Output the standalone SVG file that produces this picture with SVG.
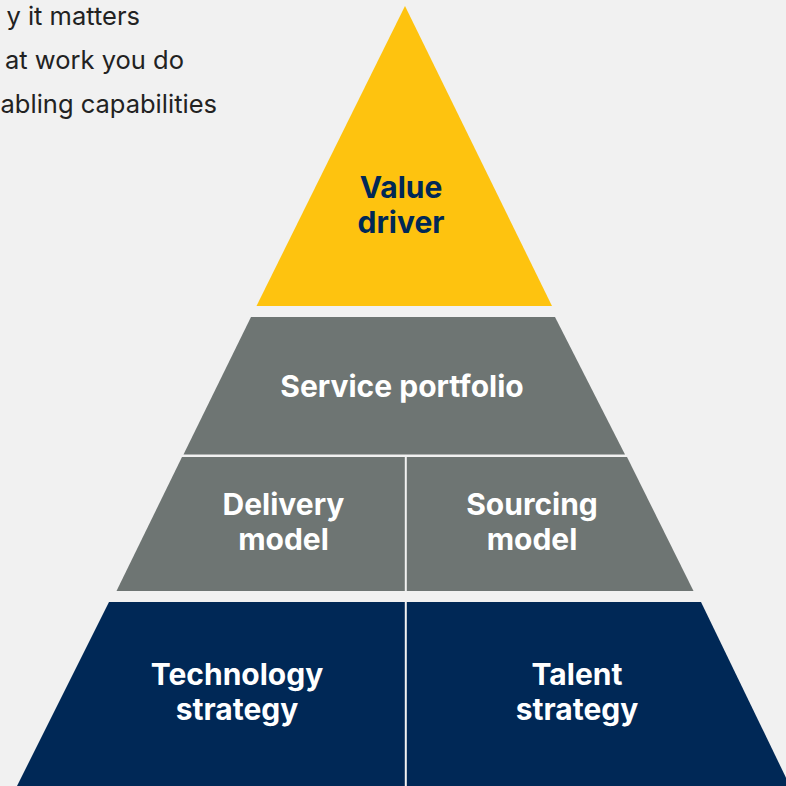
<svg xmlns="http://www.w3.org/2000/svg" width="786" height="786" viewBox="0 0 786 786">
  <style>
    .bg { fill: #f1f1f1; }
    .legend { font-family: Inter, "Liberation Sans", sans-serif; font-size: 25.5px; font-weight: 400; fill: #222222; }
    .label { font-family: Inter, "Liberation Sans", sans-serif; font-size: 30px; font-weight: 700; text-anchor: middle; }
    .on-dark { fill: #ffffff; }
    .on-yellow { fill: #002856; }
    .tier-top { fill: #fec30f; }
    .tier-mid { fill: #6e7573; }
    .tier-base { fill: #002856; }
  </style>

  <rect class="bg" x="0" y="0" width="786" height="786"/>

  <!-- legend lines, clipped at the left edge -->
  <g id="legend">
    <text class="legend" x="140" y="25" text-anchor="end">y it matters</text>
    <text class="legend" x="184" y="69" text-anchor="end">at work you do</text>
    <text class="legend" x="217" y="113" text-anchor="end">abling capabilities</text>
  </g>

  <!-- apex -->
  <g id="value-driver">
    <polygon class="tier-top" points="405,6 552,306 256.5,306"/>
    <text class="label on-yellow" x="401" y="197.5">Value</text>
    <text class="label on-yellow" x="401" y="232.5">driver</text>
  </g>

  <!-- second tier -->
  <g id="service-portfolio">
    <polygon class="tier-mid" points="251,317 555,317 625,454.5 183.5,454.5"/>
    <text class="label on-dark" x="402" y="397">Service portfolio</text>
  </g>

  <!-- third tier, split -->
  <g id="delivery-model">
    <polygon class="tier-mid" points="182,457 404.8,457 404.8,591 116.5,591"/>
    <text class="label on-dark" x="283.5" y="515">Delivery</text>
    <text class="label on-dark" x="283.5" y="550">model</text>
  </g>
  <g id="sourcing-model">
    <polygon class="tier-mid" points="406.8,457 627,457 693.5,591 406.8,591"/>
    <text class="label on-dark" x="532" y="515">Sourcing</text>
    <text class="label on-dark" x="532" y="550">model</text>
  </g>

  <!-- base tier, split -->
  <g id="technology-strategy">
    <polygon class="tier-base" points="109,602 404.8,602 404.8,786 17,786"/>
    <text class="label on-dark" x="237" y="685">Technology</text>
    <text class="label on-dark" x="237" y="720">strategy</text>
  </g>
  <g id="talent-strategy">
    <polygon class="tier-base" points="406.8,602 701,602 790,786 406.8,786"/>
    <text class="label on-dark" x="577" y="685">Talent</text>
    <text class="label on-dark" x="577" y="720">strategy</text>
  </g>
</svg>
